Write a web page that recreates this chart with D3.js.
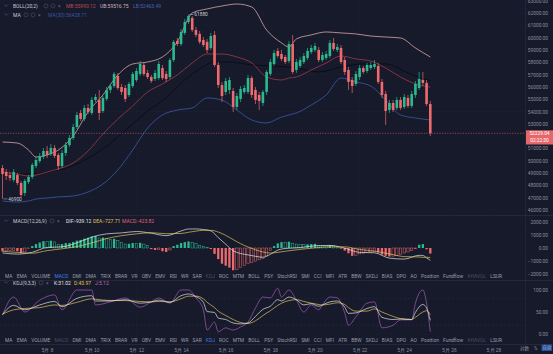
<!DOCTYPE html>
<html>
<head>
<meta charset="utf-8">
<script src="https://cdn.jsdelivr.net/npm/d3@7"></script>
<style>
html, body { margin: 0; padding: 0; background: #161a2a; overflow: hidden; }
svg { display: block; font-family: Roboto, "Noto Sans CJK SC", sans-serif; }
</style>
</head>
<body>
<svg id="chart" width="553" height="354"></svg>
<script>
// 4h candles, [open, close, high, low]
const ohlc = [
  [49410,48920,49660,46900],[49090,48760,49330,48440],[48840,48600,49090,48360],[48440,49090,49330,48270],
  [48840,48190,49010,48030],[48190,47220,48360,47060],[47380,48360,48520,47140],[48270,48680,48840,48110],
  [48680,49660,49820,48520],[49570,50060,50310,49410],[49980,50390,50630,49820],[50310,50790,51040,50140],
  [50790,50470,51200,50220],[50550,51040,51360,50390],[51040,50390,51280,50220],[50470,49570,50630,49250],
  [49570,50630,50870,49410],[50630,51280,51520,50390],[51280,51850,52090,51120],[51850,52740,52990,51690],
  [52740,53720,53960,52580],[53880,53390,54120,53230],[53390,54290,54530,53230],[54290,53960,54610,53800],
  [53880,54940,55180,53720],[54940,55180,55420,54770],[54940,53880,55750,53310],[54040,55100,55260,53880],
  [55020,55750,55990,54850],[55750,56070,56240,55500],[56070,57050,57210,55910],[56890,55910,57130,55750],
  [55990,55590,56240,55340],[55910,55020,56150,54770],[55340,56240,56400,55180],[56070,57050,57210,55910],
  [56560,57290,57530,56400],[57050,57860,58100,56890],[57780,57050,58020,56890],[57130,56800,57370,56640],
  [56800,56480,56970,56320],[56640,57130,57370,56480],[56720,57860,58100,56560],[57530,56720,57780,56560],
  [57050,56640,57290,56400],[56800,58180,58350,56640],[58180,59650,59810,58020],[59730,59480,59970,59320],
  [59480,60460,60700,59320],[60380,61270,61520,60220],[61270,61760,61880,61110],[61600,60620,61760,60460],
  [60620,60220,60870,60050],[60300,59650,60540,59480],[59810,59400,60050,59240],[59650,59000,59890,58750],
  [59160,60130,60380,59000],[60220,57780,60540,57620],[57780,56150,58020,55910],[56150,55260,56400,54770],
  [55590,56480,56720,55340],[55750,56560,56800,55420],[55670,54370,55910,53960],[54370,55260,55500,54120],
  [55020,55830,56070,54770],[55590,55910,56150,55420],[55590,56720,56970,55420],[56720,55340,56890,55100],
  [55750,54940,55990,54610],[55340,54850,55590,54120],[54690,55590,55750,54450],[55590,57210,57370,55340],
  [57050,58020,58270,56890],[57860,58750,59000,57700],[58920,58510,59160,58350],[58670,58270,59000,58100],
  [58430,58020,58590,57860],[58100,59480,59730,57940],[59480,57210,60220,57050],[57370,58020,58270,57130],
  [57700,58180,58430,57530],[58020,58510,58750,57860],[58350,58920,59160,58180],[58830,59160,59400,58670],
  [59000,59320,59570,58830],[59000,58180,59240,58020],[58180,58590,58830,58020],[58350,58670,58920,58180],
  [58510,59570,59810,58350],[59570,59080,59970,58920],[59000,59240,59480,58830],[59160,58020,59400,57860],
  [58180,57210,58430,56970],[57370,56400,57620,55750],[56560,56070,56800,55500],[56240,57050,57290,56070],
  [56800,57530,57780,56560],[57530,57210,57700,57050],[57290,57780,57940,57130],[57530,57780,58020,57370],
  [57620,57860,58180,57450],[57700,56400,57940,56240],[56400,55340,56640,55100],[55420,54040,55670,52900],
  [54120,54690,54940,53880],[54690,54120,54940,53960],[54290,54940,55180,54120],[54940,54290,55180,54120],
  [54370,55180,55420,54200],[55100,54450,55340,54290],[54450,55420,55670,54290],[55340,56240,56480,55100],
  [55910,56640,57210,55750],[56560,56320,57210,56070],[56320,54610,56560,54450],[54610,52229.04,54850,52010]
];
const lastPrice = 52229.04;

// BOLL(20,2) and MA read at sample candles
const bollIdx   = [0,4,7,9,12,15,19,23,27,31,35,39,43,47,51,55,59,63,67,71,75,77,79,83,87,91,95,99,103,107,111,115];
const bollUpper = [51520,51440,50870,50310,50470,50870,52010,53960,55340,56970,57860,58020,58430,59650,62000,62330,62570,62730,62490,60620,59570,59240,59890,60220,60460,60380,60300,60130,60050,59970,59160,58430];
const bollMid   = [49090,48920,48760,48840,49090,49330,49820,50790,52170,53390,54450,55590,56240,56970,57940,58670,58670,58430,57940,56800,56560,56720,56800,57370,57940,58510,58270,58100,57530,56800,56240,55990];
const bollLower = [46730,46650,46730,46890,46970,47060,47140,47460,48110,49250,50870,52660,53720,54120,54290,55100,54930,54120,53310,53070,53550,53720,53880,54530,55340,56720,56400,56070,54930,53720,53470,53310];
const maIdx     = [0,6,12,18,23,27,31,35,39,44,49,53,57,61,67,73,79,85,91,97,103,109,115];
const maValues  = [49090,48920,49090,49490,50220,50960,51930,52990,54040,55100,56560,57450,58020,58020,57780,57700,57530,57210,57620,57860,57860,57130,56480];

// MACD(12,26,9)
const macdHist = [
  -250,-220,-200,-180,-250,-380,-300,-50,150,300,
  420,520,480,560,470,280,300,380,380,460,
  560,620,720,780,880,920,760,800,720,650,
  700,560,420,300,320,380,360,400,300,180,
  -80,-150,-120,-250,-300,-150,150,250,380,450,
  500,420,330,200,120,40,-80,-450,-850,-1200,
  -1350,-1500,-1700,-1650,-1500,-1350,-1200,-1100,-1000,-900,
  -800,-600,-200,150,350,450,420,480,350,300,
  280,260,280,300,320,200,180,160,220,180,
  120,-50,-200,-400,-600,-550,-450,-400,-350,-300,
  -250,-350,-500,-600,-650,-620,-560,-500,-380,-300,
  -180,-60,250,300,-100,-423.82
];
const macdIdx   = [0,4,8,12,16,20,24,28,32,36,40,44,48,50,52,54,56,58,60,62,64,66,68,70,72,74,76,80,84,88,92,96,100,104,108,112,113,114,115];
const difValues = [-375,-465,-325,40,90,390,830,1080,1150,1260,1130,940,1300,1450,1455,1410,1310,795,290,-205,-420,-525,-635,-705,-485,-160,-38,33,169,195,-10,-335,-365,-775,-846,-560,-565,-755,-939.12];
const deaValues = [-250,-340,-400,-200,-60,110,390,720,940,1080,1170,1090,1110,1200,1290,1350,1350,1220,965,645,330,75,-135,-305,-385,-335,-248,-107,9,85,90,-110,-240,-450,-656,-685,-715,-705,-727.71];

// KDJ(9,3,3)
const kdjIdx  = [0,3,6,10,14,16,20,24,25,29,33,37,40,42,45,48,50,52,54,55,57,58,60,62,64,66,68,70,72,74,75,77,79,81,83,85,86,88,90,92,93,95,98,100,102,105,107,110,111,113,114,115];
const kValues = [44,65,55,66,74,62,81,87,75,75,78,70,73,77,72,87,91,85,72,51,49,36,33,25,23,25,40,56,63,78,75,84,78,66,69,63,66,73,75,61,47,48,58,62,38,33,34,33,49,67,59,31.02];
const dValues = [45,55,58,60,66,65,72,80,79,76,76,74,73,74,73,80,86,86,80,72,60,52,42,33,26,24,30,42,53,65,70,76,78,74,70,67,66,68,71,67,60,52,52,57,50,40,35,33,38,50,53,43.97];
const jValues = [43,84,50,77,89,55,100,100,66,73,82,61,73,82,70,100,100,82,55,9,27,5,14,9,16,27,59,84,82,104,84,100,77,50,66,55,66,84,82,48,20,39,70,73,14,20,32,32,70,100,70,5.12];

const priceTicks = d3.range(46000, 63001, 1000);
const macdTicks = [-2000, -1000, 0, 1000, 2000];
const kdjTicks = [0, 50, 100];
const dateTicks = d3.range(8, 29, 2).map(d => new Date(2024, 4, d));
const tabs = ["MA","EMA","VOLUME","MACD","DMI","DMA","TRIX","BRAR","VR","OBV","EMV","RSI","WR","SAR","KDJ","ROC","MTM","BOLL","PSY","StochRSI","SMI","CCI","MFI","ATR","BBW","SKDJ","BIAS","DPO","AO","Position","Fundflow","AHAVOL","LSUR"];

const up = "#2bb98f", down = "#ee6a6e";
const grid = "#1c2031", sep = "#282c3c", axisText = "#8b909e";
const plotRight = 525;

const svg = d3.select("#chart");
svg.append("rect").attr("width", 553).attr("height", 354).attr("fill", "#161a2a");

const t0 = new Date(2024, 4, 6);
const step = 4 * 3600 * 1000;
const timeOf = i => new Date(t0.getTime() + i * step);
const x = d3.scaleTime().domain([t0, new Date(2024, 4, 28)]).range([2.5, 2.5 + 132 * 3.72]);
const yMain = d3.scaleLinear().domain([46000, 62000]).range([210, 13]);
const yMacd = d3.scaleLinear().domain([-2000, 2000]).range([274.2, 221.8]);
const yKdj = d3.scaleLinear().domain([0, 100]).range([334, 290]);

const defs = svg.append("defs");
[["clipMain", 0, 215], ["clipMacd", 216, 64], ["clipKdj", 281, 63]].forEach(([id, y0, h]) => {
  defs.append("clipPath").attr("id", id).append("rect")
    .attr("x", 0).attr("y", y0).attr("width", plotRight).attr("height", h);
});

// grid
const gridG = svg.append("g").attr("stroke", grid).attr("stroke-width", 0.5);
gridG.selectAll(".vg").data(dateTicks).join("line")
  .attr("x1", d => x(d)).attr("x2", d => x(d)).attr("y1", 0).attr("y2", 344);
gridG.selectAll(".hp").data(priceTicks).join("line")
  .attr("x1", 0).attr("x2", plotRight).attr("y1", d => yMain(d)).attr("y2", d => yMain(d));
gridG.selectAll(".hm").data(macdTicks).join("line")
  .attr("x1", 0).attr("x2", plotRight).attr("y1", d => yMacd(d)).attr("y2", d => yMacd(d));
gridG.selectAll(".hk").data([0, 20, 50, 80, 100]).join("line")
  .attr("x1", 0).attr("x2", plotRight).attr("y1", d => yKdj(d)).attr("y2", d => yKdj(d))
  .attr("stroke", d => (d === 20 || d === 80) ? "#2c3144" : grid)
  .attr("stroke-dasharray", d => (d === 20 || d === 80) ? "2,2" : null);

// panel separators
svg.append("g").attr("stroke", sep).attr("stroke-width", 0.8)
  .selectAll("line").data([215.5, 280.5, 344.5]).join("line")
  .attr("x1", 0).attr("x2", 553).attr("y1", d => d).attr("y2", d => d);
svg.append("line").attr("x1", plotRight + 0.5).attr("x2", plotRight + 0.5)
  .attr("y1", 0).attr("y2", 344).attr("stroke", sep).attr("stroke-width", 0.6);

// main panel
const main = svg.append("g").attr("clip-path", "url(#clipMain)");
const lineFrom = (idx, vals, y) => d3.line().curve(d3.curveMonotoneX)
  .x((d, k) => x(timeOf(idx[k]))).y(d => y(d))(vals);

[[maIdx, maValues, "#080a14"], [bollIdx, bollLower, "#3a5aa8"], [bollIdx, bollMid, "#a23a4a"], [bollIdx, bollUpper, "#d7a8ab"]]
  .forEach(([idx, vals, c]) => {
    main.append("path").attr("d", lineFrom(idx, vals, yMain))
      .attr("fill", "none").attr("stroke", c).attr("stroke-width", 0.8);
  });

const cw = 2.6;
const cg = main.append("g");
cg.selectAll("line").data(ohlc).join("line")
  .attr("x1", (d, i) => x(timeOf(i))).attr("x2", (d, i) => x(timeOf(i)))
  .attr("y1", d => yMain(d[2])).attr("y2", d => yMain(d[3]))
  .attr("stroke", d => d[1] >= d[0] ? up : down).attr("stroke-width", 0.7);
cg.selectAll("rect").data(ohlc).join("rect")
  .attr("x", (d, i) => x(timeOf(i)) - cw / 2).attr("width", cw)
  .attr("y", d => yMain(Math.max(d[0], d[1])))
  .attr("height", d => Math.max(0.7, Math.abs(yMain(d[0]) - yMain(d[1]))))
  .attr("fill", d => d[1] >= d[0] ? up : down);

// current price line
svg.append("line").attr("x1", 0).attr("x2", plotRight)
  .attr("y1", yMain(lastPrice)).attr("y2", yMain(lastPrice))
  .attr("stroke", "#e46a6e").attr("stroke-width", 0.6).attr("stroke-dasharray", "1.2,1.4");

// high / low marks
const hiI = d3.maxIndex(ohlc, d => d[2]), loI = d3.minIndex(ohlc, d => d[3]);
[[hiI, ohlc[hiI][2]], [loI, ohlc[loI][3]]].forEach(([i, v]) => {
  const cx = x(timeOf(i)), cy = yMain(v);
  svg.append("line").attr("x1", cx + 1).attr("x2", cx + 5).attr("y1", cy).attr("y2", cy)
    .attr("stroke", "#c9cdd6").attr("stroke-width", 0.5);
  svg.append("text").attr("x", cx + 5.8).attr("y", cy + 1.7).text(v)
    .attr("font-size", 4.8).attr("fill", "#c9cdd6");
});

// MACD panel
const macdG = svg.append("g").attr("clip-path", "url(#clipMacd)");
macdG.selectAll("rect").data(macdHist).join("rect")
  .attr("x", (d, i) => x(timeOf(i)) - 1.15).attr("width", 2.3)
  .attr("y", d => Math.min(yMacd(d), yMacd(0)))
  .attr("height", d => Math.max(0.5, Math.abs(yMacd(d) - yMacd(0))))
  .each(function (d, i) {
    const prev = i > 0 ? macdHist[i - 1] : d;
    const c = d >= 0 ? up : down;
    const solid = d >= 0 ? d >= prev : d <= prev;
    d3.select(this).attr("fill", solid ? c : "none").attr("stroke", solid ? "none" : c).attr("stroke-width", 0.5);
  });
[[difValues, "#e6e6ea"], [deaValues, "#e2c45c"]].forEach(([vals, c]) => {
  macdG.append("path").attr("d", lineFrom(macdIdx, vals, yMacd))
    .attr("fill", "none").attr("stroke", c).attr("stroke-width", 0.7);
});

// KDJ panel
const kdjG = svg.append("g").attr("clip-path", "url(#clipKdj)");
[[jValues, "#a55bbd"], [dValues, "#e2c45c"], [kValues, "#e6e6ea"]].forEach(([vals, c]) => {
  kdjG.append("path").attr("d", lineFrom(kdjIdx, vals, yKdj))
    .attr("fill", "none").attr("stroke", c).attr("stroke-width", 0.7);
});

// right axes (price labels hidden under the last-price tag)
const ly = yMain(lastPrice);
const fmt = d3.format(".2f");
[[yMain, priceTicks.filter(d => Math.abs(yMain(d) - (ly + 4)) > 8)], [yMacd, macdTicks], [yKdj, kdjTicks]].forEach(([sc, ticks]) => {
  const g = svg.append("g").attr("transform", "translate(548,0)")
    .call(d3.axisRight(sc).tickValues(ticks).tickFormat(fmt).tickSize(0));
  g.select(".domain").remove();
  g.selectAll("text").attr("x", 0).attr("text-anchor", "end")
    .attr("fill", axisText).attr("font-size", 4.8).attr("font-family", "Roboto, sans-serif");
});

// last price tag
svg.append("rect").attr("x", 526).attr("y", ly - 3).attr("width", 27).attr("height", 14.2).attr("fill", "#e5676b");
svg.append("text").attr("x", 539.5).attr("y", ly + 1.7).attr("text-anchor", "middle")
  .attr("font-size", 4.8).attr("fill", "#fff").text(fmt(lastPrice));
svg.append("text").attr("x", 539.5).attr("y", ly + 9).attr("text-anchor", "middle")
  .attr("font-size", 4.8).attr("fill", "#fff").text("02:22:30");

// date axis
const xa = svg.append("g").attr("transform", "translate(0,346)")
  .call(d3.axisBottom(x).tickValues(dateTicks).tickFormat(d3.timeFormat("%-m月 %-d")).tickSize(0));
xa.select(".domain").remove();
xa.selectAll("text").attr("fill", axisText).attr("font-size", 4.8).attr("dy", "0.55em");

svg.append("text").attr("x", 520).attr("y", 349.5).attr("font-size", 4.6).attr("fill", axisText).text("对数");
svg.append("text").attr("x", 534).attr("y", 349.5).attr("font-size", 4.6).attr("fill", axisText).text("%");
svg.append("rect").attr("x", 541.5).attr("y", 344.5).attr("width", 10.5).attr("height", 6.5).attr("fill", "#2a4f94");
svg.append("text").attr("x", 546.8).attr("y", 349.4).attr("text-anchor", "middle").attr("font-size", 4.2).attr("fill", "#9db6e6").text("自动");

// indicator tab rows
function tabRow(y, active, dim) {
  const g = svg.append("g").attr("font-size", 4.9);
  const items = g.selectAll("text").data(tabs).join("text").attr("y", y).text(d => d)
    .attr("fill", d => d === active ? "#3f7ff0" : (d === dim || d === "AHAVOL") ? "#4a4f62" : "#9a9eab");
  const widths = [];
  items.each(function () { widths.push(this.getComputedTextLength()); });
  const gap = (502 - 5 - d3.sum(widths)) / (tabs.length - 1);
  let cx = 5;
  items.each(function (d, i) { d3.select(this).attr("x", cx); cx += widths[i] + gap; });
}
tabRow(278, "MACD", "KDJ");
tabRow(342, "KDJ", "MACD");

// legends
function icons(g, x0, y, n) {
  for (let k = 0; k < n; k++) {
    g.append("circle").attr("cx", x0 + k * 7).attr("cy", y - 1.6).attr("r", 2)
      .attr("fill", "none").attr("stroke", "#555a6c").attr("stroke-width", 0.5);
  }
  g.append("text").attr("x", x0 + n * 7 - 2).attr("y", y).attr("font-size", 5).attr("fill", "#6a6f80").text("×");
}
function legend(y, title, tx, parts, nIcons) {
  const g = svg.append("g").attr("font-size", 5);
  g.append("path").attr("d", `M4.5,${y - 3} l1.8,1.8 l1.8,-1.8`).attr("fill", "none")
    .attr("stroke", "#6a6f80").attr("stroke-width", 0.5);
  g.append("text").attr("x", 13).attr("y", y).attr("fill", "#c6cad4").text(title);
  icons(g, tx, y, nIcons);
  parts.forEach(([px, txt, c]) => g.append("text").attr("x", px).attr("y", y).attr("fill", c).text(txt));
}
legend(7.5, "BOLL(20,2)", 46, [[66, "MB:55990.12", "#b84c5a"], [100, "UB:59516.75", "#d8b6ba"], [133, "LB:52463.49", "#4663b5"]], 2);
legend(16.5, "MA", 26, [[48, "MA(30):56428.71", "#3a55a6"]], 2);
legend(222.5, "MACD(12,26,9)", 52, [[66, "DIF:-939.12", "#e6e6ea"], [93, "DEA:-727.71", "#e2c45c"], [122, "MACD:-423.82", "#e0607a"]], 1);
legend(284.5, "KDJ(9,3,3)", 41, [[54, "K:31.02", "#e6e6ea"], [74, "D:43.97", "#e2c45c"], [95, "J:5.12", "#c466c8"]], 1);
</script>
</body>
</html>
